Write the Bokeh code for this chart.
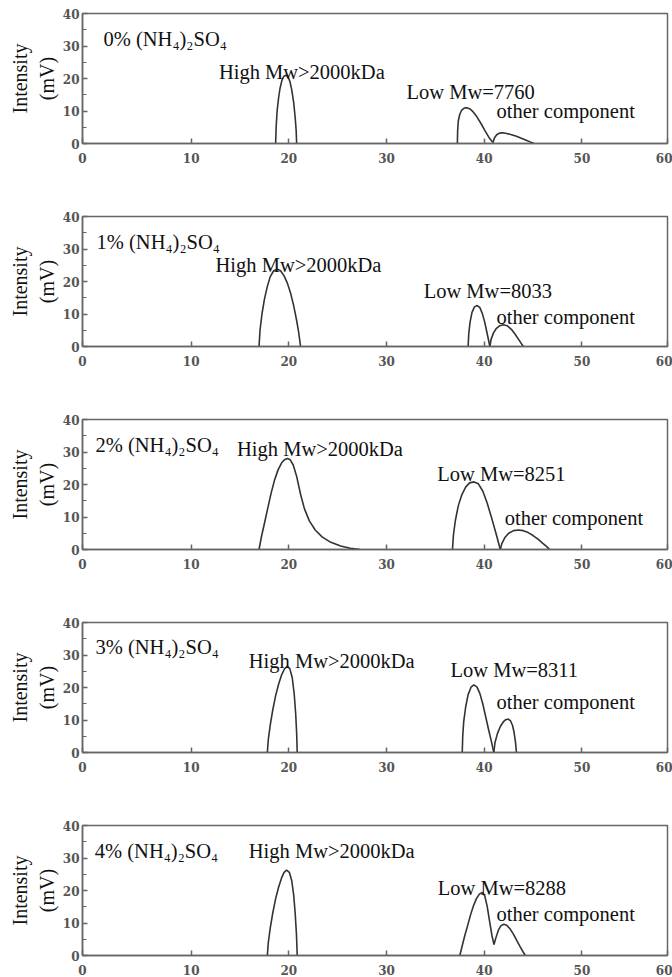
from bokeh.plotting import figure
from bokeh.layouts import column
from bokeh.models import FixedTicker, Range1d
from bokeh.core.properties import value
from bokeh.embed import file_html
from bokeh.resources import INLINE

# Ammonium sulfate concentration of each run and the measured low-Mw fraction
salt_pct = ["0%", "1%", "2%", "3%", "4%"]
low_mw = [7760, 8033, 8251, 8311, 8288]

# Elution time (min) / detector intensity (mV) of the high-Mw peak
high_x = [
    [18.65, 18.7, 18.8, 18.95, 19.1, 19.3, 19.5, 19.7, 19.9, 20.1, 20.3, 20.5, 20.65, 20.75, 20.8],
    [16.95, 17.05, 17.25, 17.5, 17.8, 18.1, 18.45, 18.8, 19.15, 19.5, 19.85, 20.2, 20.5, 20.8, 21.0, 21.2],
    [16.95, 17.2, 17.5, 17.85, 18.2, 18.55, 18.9, 19.25, 19.55, 19.85, 20.15, 20.45, 20.8, 21.2, 21.6, 22.1, 22.7, 23.4, 24.3, 25.3, 26.3, 27.3],
    [17.8, 17.9, 18.1, 18.35, 18.65, 18.95, 19.25, 19.55, 19.84, 20.1, 20.35, 20.55, 20.7, 20.8, 20.86],
    [17.8, 17.9, 18.1, 18.35, 18.65, 18.95, 19.25, 19.5, 19.77, 20.05, 20.3, 20.5, 20.65, 20.78, 20.86],
]
high_y = [
    [0, 5, 10, 14, 17, 19.5, 20.7, 21.0, 20.6, 19.2, 16.5, 12.5, 8, 4, 0],
    [0, 5, 10, 14.5, 18.5, 21.5, 23.3, 23.8, 23.3, 21.8, 19.5, 16.2, 12.5, 8, 4.5, 0],
    [0, 4, 8, 12.8, 17.5, 21.5, 24.5, 26.6, 27.6, 28.0, 27.6, 26, 22.5, 17, 12.5, 8.8, 6, 3.9, 2.2, 1.1, 0.4, 0],
    [0, 4, 8.5, 13, 17.5, 21, 23.8, 25.7, 26.5, 25.8, 23, 18, 12, 6, 0],
    [0, 4, 8.5, 13, 17.5, 21, 23.8, 25.5, 26.3, 25.6, 23, 18.5, 13, 6.5, 0],
]

# Low-Mw peak
low_x = [
    [37.25, 37.28, 37.35, 37.5, 37.7, 37.95, 38.2, 38.5, 38.85, 39.25, 39.7, 40.1, 40.5, 40.9],
    [38.35, 38.42, 38.55, 38.75, 39.0, 39.28, 39.55, 39.8, 40.05, 40.3, 40.58],
    [36.75, 36.85, 37.05, 37.35, 37.7, 38.1, 38.5, 38.95, 39.4, 39.85, 40.3, 40.75, 41.2, 41.65],
    [37.75, 37.8, 37.9, 38.1, 38.35, 38.65, 38.94, 39.25, 39.55, 39.85, 40.15, 40.45, 40.75, 40.98],
    [37.5, 37.75, 38.0, 38.3, 38.6, 38.9, 39.2, 39.5, 39.8, 40.05, 40.3, 40.55, 40.8, 41.0],
]
low_y = [
    [0, 4, 7, 9, 10.3, 10.9, 11.0, 10.7, 9.8, 8.2, 6.0, 3.8, 1.8, 0.3],
    [0, 4, 7.5, 10.5, 12.2, 12.6, 12.0, 10.2, 7.5, 4, 0],
    [0, 4.5, 9, 13.5, 16.8, 19.2, 20.5, 20.8, 20.2, 18, 14.3, 9.8, 5, 0],
    [0, 5, 9.5, 14, 17.8, 20.1, 20.8, 20.2, 18.2, 15, 11, 7, 3.2, 0],
    [0, 3, 6, 9.2, 12.5, 15.3, 17.5, 18.9, 19.4, 18.4, 15.2, 10.5, 6, 3.4],
]

# Other component
other_x = [
    [40.9, 41.05, 41.3, 41.6, 41.9, 42.3, 42.8, 43.3, 43.8, 44.3, 44.7, 45.1],
    [40.58, 40.7, 40.95, 41.25, 41.6, 41.95, 42.35, 42.8, 43.2, 43.6, 44.0],
    [41.65, 41.8, 42.1, 42.5, 43.0, 43.5, 44.0, 44.5, 45.0, 45.5, 46.0, 46.4, 46.7],
    [40.98, 41.1, 41.35, 41.65, 41.95, 42.2, 42.46, 42.7, 42.9, 43.05, 43.2, 43.3],
    [41.0, 41.2, 41.45, 41.7, 42.0, 42.3, 42.65, 43.0, 43.35, 43.7, 44.0, 44.2],
]
other_y = [
    [0.3, 1.8, 2.8, 3.2, 3.3, 3.1, 2.7, 2.2, 1.6, 1.0, 0.5, 0],
    [0, 2.2, 4.2, 5.6, 6.4, 6.7, 6.4, 5.2, 3.6, 1.8, 0],
    [0, 1.8, 3.6, 5.0, 5.8, 6.0, 5.8, 5.2, 4.3, 3.2, 1.9, 0.9, 0],
    [0, 3, 5.8, 8, 9.4, 10.1, 10.3, 9.7, 8.3, 6.3, 3.2, 0],
    [3.4, 5.5, 7.8, 9.1, 9.6, 9.3, 8.2, 6.5, 4.5, 2.6, 1.0, 0],
]

# Annotation anchors (left edge, baseline) in data units
title_pos = [(1.03, 32.2), (0.32, 32.3), (0.21, 32.3), (0.21, 32.5), (0.14, 32.3)]
high_pos = [(12.84, 21.9), (12.5, 25.1), (14.7, 30.8), (15.9, 28.2), (15.9, 32.3)]
low_pos = [(32.05, 15.7), (33.8, 17.1), (35.2, 23.1), (36.55, 25.3), (35.25, 20.9)]
other_pos = [(41.26, 10.1), (41.26, 9.2), (42.1, 9.7), (41.26, 15.4), (41.26, 12.9)]

x_ticks = [10, 20, 30, 40, 50]
y_ticks = [0, 10, 20, 30, 40]
X_START, X_END = -1.12, 58.76

SERIF = value("Liberation Serif")
LINE = "#333333"
AXIS = "#666666"
TICK_TXT = "#555555"

figs = []
n = len(salt_pct)
for i in range(n):
    last = i == n - 1
    h = 165 if last else 203
    p = figure(width=672, height=h, output_backend="svg", toolbar_location=None,
               x_range=Range1d(X_START, X_END), y_range=Range1d(0, 40),
               min_border_left=82, min_border_right=5, min_border_top=13,
               min_border_bottom=(h - 13 - 130))
    p.xgrid.visible = False
    p.ygrid.visible = False
    p.outline_line_color = AXIS
    p.outline_line_width = 1.5

    # the end labels 0 and 60 sit on the frame edges
    p.xaxis.ticker = FixedTicker(ticks=[X_START + 0.001] + x_ticks + [X_END - 0.001])
    p.xaxis.major_label_overrides = {X_START + 0.001: "0", X_END - 0.001: "60"}
    p.yaxis.ticker = FixedTicker(ticks=y_ticks, minor_ticks=[5, 15, 25, 35])

    for ax in (p.xaxis[0], p.yaxis[0]):
        ax.axis_line_color = AXIS
        ax.axis_line_width = 1.5
        ax.major_tick_line_color = AXIS
        ax.major_tick_line_width = 1.5
        ax.major_tick_in = 5
        ax.major_tick_out = 0
        ax.minor_tick_line_color = AXIS
        ax.minor_tick_line_width = 1.2
        ax.minor_tick_in = 4
        ax.minor_tick_out = 0
        ax.major_label_text_font = "DejaVu Serif"
        ax.major_label_text_font_style = "bold"
        ax.major_label_text_font_size = "12px"
        ax.major_label_text_color = TICK_TXT
    p.xaxis.minor_tick_line_color = None
    p.xaxis.major_label_standoff = 9
    p.yaxis.major_label_standoff = 3

    p.yaxis.axis_label = "Intensity\n(mV)"
    p.yaxis.axis_label_text_font = "Liberation Serif"
    p.yaxis.axis_label_text_font_style = "normal"
    p.yaxis.axis_label_text_font_size = "20px"
    p.yaxis.axis_label_text_color = "#111111"
    p.yaxis.axis_label_standoff = 2

    p.line(high_x[i], high_y[i], line_color=LINE, line_width=1.6)
    p.line(low_x[i], low_y[i], line_color=LINE, line_width=1.6)
    p.line(other_x[i], other_y[i], line_color=LINE, line_width=1.6)

    texts = [
        f"{salt_pct[i]} (NH\u2084)\u2082SO\u2084",
        "High Mw>2000kDa",
        f"Low Mw={low_mw[i]}",
        "other component",
    ]
    anchors = [title_pos[i], high_pos[i], low_pos[i], other_pos[i]]
    p.text(x=[a[0] for a in anchors], y=[a[1] for a in anchors], text=texts,
           text_font=SERIF, text_font_size="20.5px", text_color="#111111",
           text_align="left", text_baseline="alphabetic")
    figs.append(p)

layout = column(*figs, spacing=0)
open("out.html", "w").write(file_html(layout, INLINE))
